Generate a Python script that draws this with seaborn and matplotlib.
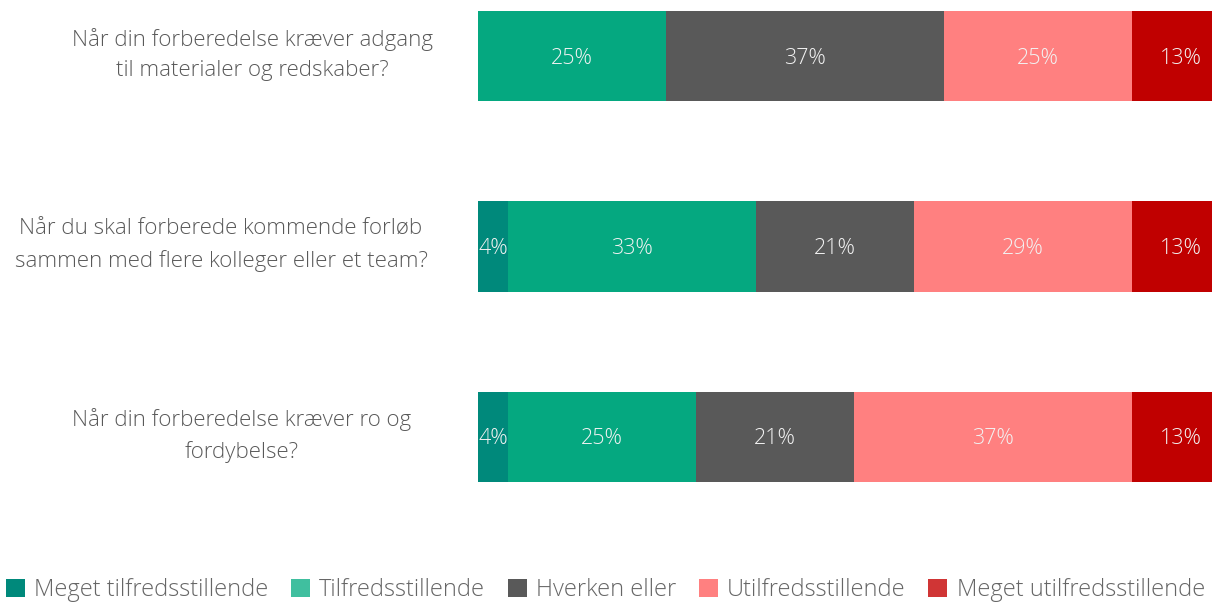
import matplotlib
matplotlib.use("Agg")
import matplotlib.pyplot as plt
from matplotlib.patches import Patch
from matplotlib.transforms import blended_transform_factory
import numpy as np
import pandas as pd
import seaborn as sns

# Survey questions and answer distribution (percent)
questions = [
    "Når din forberedelse kræver adgang\ntil materialer og redskaber?",
    "Når du skal forberede kommende forløb\nsammen med flere kolleger eller et team?",
    "Når din forberedelse kræver ro og\nfordybelse?",
]
categories = [
    "Meget tilfredsstillende",
    "Tilfredsstillende",
    "Hverken eller",
    "Utilfredsstillende",
    "Meget utilfredsstillende",
]
meget_tilfreds = [0, 4, 4]
tilfreds = [25, 33, 25]
hverken = [37, 21, 21]
utilfreds = [25, 29, 37]
meget_utilfreds = [13, 13, 13]

bar_colors = ["#00897B", "#05A880", "#595959", "#FF8080", "#C00000"]
legend_colors = ["#00897B", "#40BF9F", "#595959", "#FF8080", "#D03535"]

sns.set_theme(style="white")
plt.rcParams["font.family"] = ["Open Sans", "DejaVu Sans"]
FONT_WEIGHT = 300

series = [meget_tilfreds, tilfreds, hverken, utilfreds, meget_utilfreds]
values = np.array(series, dtype=float)          # shape (5 categories, 3 questions)
cum = np.cumsum(values, axis=0)

fig = plt.figure(figsize=(12.12, 6.03), dpi=100)
W, H = 1212, 603
ax = fig.add_axes([478 / W, (603 - 532) / H, 752 / W, 571 / H])

# Stacked bars: draw cumulative totals from the outermost segment inward
for i in range(len(categories) - 1, -1, -1):
    df = pd.DataFrame({"question": questions, "value": cum[i]})
    sns.barplot(data=df, x="value", y="question", orient="h",
                color=bar_colors[i], width=0.474, ax=ax,
                saturation=1, linewidth=0)

ax.set_xlim(0, 100)
ax.set_ylim(2.5, -0.5)
ax.set_xlabel("")
ax.set_ylabel("")
ax.set_xticks([])
ax.set_yticks([])
for s in ax.spines.values():
    s.set_visible(False)

# Segment value labels
for i in range(len(categories)):
    for j in range(len(questions)):
        v = values[i, j]
        if v <= 0:
            continue
        ax.text(cum[i, j] - v / 2, j + 0.01, f"{v:.0f}%", ha="center", va="center",
                color="#F2F2F2", fontsize=15.5, fontweight=FONT_WEIGHT)

# Question labels to the left of the bars
label_x = [252 / W, 221 / W, 242 / W]
trans = blended_transform_factory(fig.transFigure, ax.transData)
for j, q in enumerate(questions):
    ax.text(label_x[j], j - 0.008, q, transform=trans, ha="center", va="center",
            color="#595959", fontsize=16, fontweight=FONT_WEIGHT,
            linespacing=1.6, clip_on=False)

handles = [Patch(facecolor=c, edgecolor="none") for c in legend_colors]
leg = fig.legend(handles, categories, loc="center left",
                 ncol=5, frameon=False,
                 handlelength=0.8, handleheight=0.8, handletextpad=0.4,
                 columnspacing=0.95, borderaxespad=0, borderpad=0,
                 prop={"size": 17, "weight": FONT_WEIGHT}, labelcolor="#666666")
leg.set_bbox_to_anchor((6 / W, 1 - 590 / H), transform=fig.transFigure)

fig.savefig("out.png", dpi=100)
